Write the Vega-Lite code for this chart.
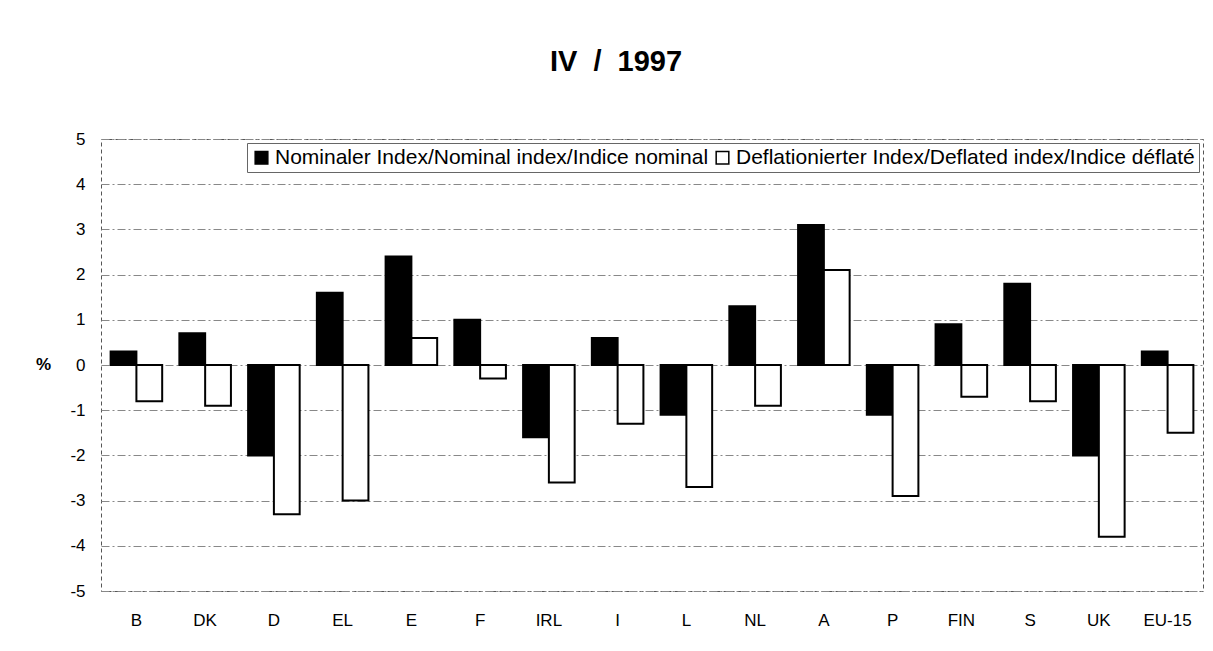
{
  "$schema": "https://vega.github.io/schema/vega-lite/v6.json",
  "autosize": "none",
  "padding": {"left": 101, "top": 139, "right": 10, "bottom": 60},
  "width": 1102,
  "height": 452,
  "background": "white",
  "title": {"text": "IV\u00a0\u00a0/\u00a0\u00a01997", "fontSize": 29, "font": "Liberation Sans", "fontWeight": "bold", "color": "black", "baseline": "alphabetic", "offset": 30, "anchor": "middle", "dx": -36},
  "data": {"values": [
    {"country": "B", "series": "Nominaler Index/Nominal index/Indice nominal", "value": 0.3},
    {"country": "B", "series": "Deflationierter Index/Deflated index/Indice déflaté", "value": -0.8},
    {"country": "DK", "series": "Nominaler Index/Nominal index/Indice nominal", "value": 0.7},
    {"country": "DK", "series": "Deflationierter Index/Deflated index/Indice déflaté", "value": -0.9},
    {"country": "D", "series": "Nominaler Index/Nominal index/Indice nominal", "value": -2.0},
    {"country": "D", "series": "Deflationierter Index/Deflated index/Indice déflaté", "value": -3.3},
    {"country": "EL", "series": "Nominaler Index/Nominal index/Indice nominal", "value": 1.6},
    {"country": "EL", "series": "Deflationierter Index/Deflated index/Indice déflaté", "value": -3.0},
    {"country": "E", "series": "Nominaler Index/Nominal index/Indice nominal", "value": 2.4},
    {"country": "E", "series": "Deflationierter Index/Deflated index/Indice déflaté", "value": 0.6},
    {"country": "F", "series": "Nominaler Index/Nominal index/Indice nominal", "value": 1.0},
    {"country": "F", "series": "Deflationierter Index/Deflated index/Indice déflaté", "value": -0.3},
    {"country": "IRL", "series": "Nominaler Index/Nominal index/Indice nominal", "value": -1.6},
    {"country": "IRL", "series": "Deflationierter Index/Deflated index/Indice déflaté", "value": -2.6},
    {"country": "I", "series": "Nominaler Index/Nominal index/Indice nominal", "value": 0.6},
    {"country": "I", "series": "Deflationierter Index/Deflated index/Indice déflaté", "value": -1.3},
    {"country": "L", "series": "Nominaler Index/Nominal index/Indice nominal", "value": -1.1},
    {"country": "L", "series": "Deflationierter Index/Deflated index/Indice déflaté", "value": -2.7},
    {"country": "NL", "series": "Nominaler Index/Nominal index/Indice nominal", "value": 1.3},
    {"country": "NL", "series": "Deflationierter Index/Deflated index/Indice déflaté", "value": -0.9},
    {"country": "A", "series": "Nominaler Index/Nominal index/Indice nominal", "value": 3.1},
    {"country": "A", "series": "Deflationierter Index/Deflated index/Indice déflaté", "value": 2.1},
    {"country": "P", "series": "Nominaler Index/Nominal index/Indice nominal", "value": -1.1},
    {"country": "P", "series": "Deflationierter Index/Deflated index/Indice déflaté", "value": -2.9},
    {"country": "FIN", "series": "Nominaler Index/Nominal index/Indice nominal", "value": 0.9},
    {"country": "FIN", "series": "Deflationierter Index/Deflated index/Indice déflaté", "value": -0.7},
    {"country": "S", "series": "Nominaler Index/Nominal index/Indice nominal", "value": 1.8},
    {"country": "S", "series": "Deflationierter Index/Deflated index/Indice déflaté", "value": -0.8},
    {"country": "UK", "series": "Nominaler Index/Nominal index/Indice nominal", "value": -2.0},
    {"country": "UK", "series": "Deflationierter Index/Deflated index/Indice déflaté", "value": -3.8},
    {"country": "EU-15", "series": "Nominaler Index/Nominal index/Indice nominal", "value": 0.3},
    {"country": "EU-15", "series": "Deflationierter Index/Deflated index/Indice déflaté", "value": -1.5}
  ]},
  "mark": {"type": "bar", "stroke": "black", "strokeWidth": 2, "strokeJoin": "miter"},
  "encoding": {
    "x": {
      "field": "country", "type": "nominal", "sort": null,
      "scale": {"paddingInner": 0.25, "paddingOuter": 0.14},
      "axis": {"title": null, "labelAngle": 0, "domain": false, "ticks": false, "labelPadding": 21, "labelFontSize": 17, "labelFont": "Liberation Sans", "labelColor": "black"}
    },
    "xOffset": {"field": "series", "type": "nominal", "sort": null},
    "y": {
      "field": "value", "type": "quantitative",
      "scale": {"domain": [-5, 5], "nice": false},
      "axis": {"values": [-5, -4, -3, -2, -1, 0, 1, 2, 3, 4, 5], "labelExpr": "'' + datum.value", "title": "%", "titleAngle": 0, "titleAlign": "center", "titleBaseline": "middle", "titleX": -58, "titleY": 225, "titleFontSize": 17, "titleFont": "Liberation Sans", "titleFontWeight": "bold", "titleColor": "black", "ticks": false, "domain": false, "labelPadding": 16, "labelFontSize": 17, "labelFont": "Liberation Sans", "labelColor": "black", "grid": true, "gridColor": "#888", "gridDash": [8, 3, 2, 3], "gridWidth": 1}
    },
    "color": {
      "field": "series", "type": "nominal", "sort": null,
      "scale": {"range": ["black", "white"]},
      "legend": {"title": null, "orient": "top-right", "direction": "horizontal", "offset": 4, "padding": 4, "strokeColor": "#666", "fillColor": "white", "symbolType": "square", "symbolSize": 160, "symbolStrokeColor": "black", "symbolStrokeWidth": 1.5, "labelFontSize": 21, "labelFont": "Liberation Sans", "labelColor": "black", "labelLimit": 700, "columnPadding": 3, "symbolOffset": 0, "labelOffset": 3}
    }
  },
  "config": {
    "view": {"stroke": "#555", "strokeDash": [4, 3], "strokeWidth": 1}
  }
}
